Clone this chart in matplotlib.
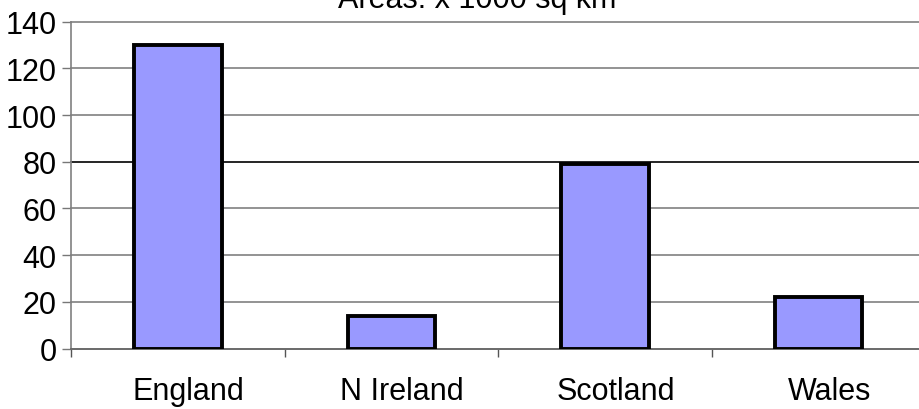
import matplotlib
matplotlib.use("Agg")
import matplotlib.pyplot as plt
import matplotlib.transforms as mtransforms
import numpy as np

categories = ["England", "N Ireland", "Scotland", "Wales"]
areas = [130, 14, 79, 22]
y_ticks = [0, 20, 40, 60, 80, 100, 120, 140]
title = "Areas: x 1000 sq km"

plt.rcParams['font.family'] = ['Liberation Sans', 'DejaVu Sans']

W, H = 919, 410
fig = plt.figure(figsize=(W / 100, H / 100), dpi=100)
left, right, bottom, top = 71, 925.4, 349.5, 22.7
ax = fig.add_axes([left / W, (H - bottom) / H, (right - left) / W, (bottom - top) / H])

x = np.arange(len(categories))
ax.bar(x, areas, width=0.41, color="#9999FF", edgecolor="black", linewidth=2.8, zorder=3)

ax.set_xlim(-0.5, len(categories) - 0.5)
ax.set_ylim(0, 140)
ax.set_yticks(y_ticks)
ax.set_yticklabels([str(v) for v in y_ticks])

# category boundaries as major ticks, labels at centers as minor ticks
ax.set_xticks(np.arange(len(categories) + 1) - 0.5)
ax.set_xticklabels([])
ax.set_xticks(x, minor=True)
ax.set_xticklabels(categories, minor=True)
ax.tick_params(axis='x', which='major', length=6, width=1.0, color='#555555', direction='out')
ax.tick_params(axis='x', which='minor', length=0, pad=19.5, labelsize=22)
ax.tick_params(axis='y', length=6.5, width=1.0, color='#777777', labelsize=22, pad=4)

shift = mtransforms.ScaledTranslation(10.5 / 100, 0, fig.dpi_scale_trans)
for lab in ax.get_xticklabels(minor=True):
    lab.set_transform(lab.get_transform() + shift)

ax.grid(axis='y', color='#808080', linewidth=1.2, zorder=0)
ax.set_axisbelow(True)
for gl in ax.get_ygridlines():
    gl.set_clip_on(False)
ax.get_ygridlines()[4].set_color('black')

for s in ['top', 'right']:
    ax.spines[s].set_visible(False)
ax.spines['left'].set_color('#808080')
ax.spines['left'].set_linewidth(1.2)
ax.spines['bottom'].set_color('#666666')
ax.spines['bottom'].set_linewidth(1.2)

fig.text(477 / W, 1 - 8 / H, title, ha='center', va='baseline', fontsize=22)

fig.savefig("out.png", dpi=100)
